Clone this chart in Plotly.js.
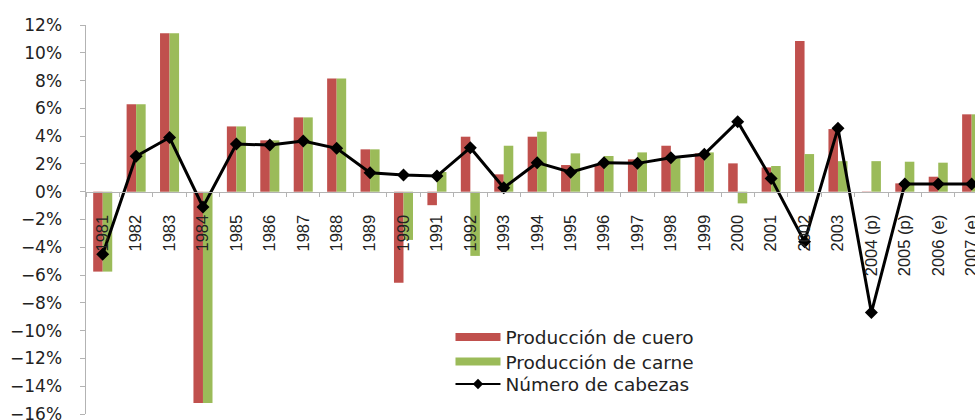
<!DOCTYPE html>
<html>
<head>
<meta charset="utf-8">
<script src="https://cdn.plot.ly/plotly-3.0.1.min.js"></script>
<style>html,body{margin:0;padding:0;background:#fff;}#chart{width:975px;height:420px;}</style>
</head>
<body>
<div id="chart"></div>
<script>
var years = ['1981','1982','1983','1984','1985','1986','1987','1988','1989','1990','1991','1992','1993','1994','1995','1996','1997','1998','1999','2000','2001','2002','2003','2004 (p)','2005 (p)','2006 (e)','2007 (e)'];
var cuero = [-5.75, 6.3, 11.4, -15.2, 4.7, 3.7, 5.35, 8.15, 3.05, -6.55, -0.97, 3.96, 1.25, 3.96, 1.92, 2.0, 2.33, 3.31, 2.76, 2.04, 1.75, 10.84, 4.51, -0.08, 0.6, 1.08, 5.57];
var carne = [-5.75, 6.3, 11.4, -15.2, 4.7, 3.7, 5.35, 8.15, 3.05, -3.47, 1.42, -4.62, 3.31, 4.32, 2.76, 2.57, 2.83, 2.4, 2.83, -0.84, 1.85, 2.71, 2.2, 2.2, 2.16, 2.09, 5.57];
var cabezas = [-4.5, 2.55, 3.9, -1.1, 3.43, 3.36, 3.65, 3.12, 1.37, 1.2, 1.13, 3.17, 0.29, 2.09, 1.4, 2.09, 2.04, 2.45, 2.69, 5.04, 0.96, -3.6, 4.56, -8.7, 0.55, 0.55, 0.55];
var names = ['Producción de cuero', 'Producción de carne', 'Número de cabezas'];

var RED = '#C0504D', GREEN = '#9BBB59', TXT = '#222', AX = '#b3b3b3';

var traces = [
  {type:'bar', x:years, y:cuero, name:names[0], marker:{color:RED}, showlegend:false},
  {type:'bar', x:years, y:carne, name:names[1], marker:{color:GREEN}, showlegend:false},
  {type:'scatter', mode:'lines+markers', x:years, y:cabezas, name:names[2], showlegend:false,
   line:{color:'#000', width:3}, marker:{symbol:'diamond', size:10, color:'#000'}},
  // legend-only entries
  {type:'scatter', mode:'lines', x:[null], y:[null], name:names[0], legend:'legend', line:{color:RED, width:8}},
  {type:'scatter', mode:'lines', x:[null], y:[null], name:names[1], legend:'legend2', line:{color:GREEN, width:8}},
  {type:'scatter', mode:'lines+markers', x:[null], y:[null], name:names[2], legend:'legend3', line:{color:'#000', width:2}, marker:{symbol:'diamond', size:8, color:'#000'}}
];

function leg(y) {
  return {x:0.41, y:y, xanchor:'left', yanchor:'top', bgcolor:'rgba(0,0,0,0)',
          font:{family:'DejaVu Sans', size:18.5, color:TXT}, itemwidth:45};
}

var layout = {
  width:975, height:420,
  margin:{l:86, r:0, t:25, b:6, pad:0},
  paper_bgcolor:'#fff', plot_bgcolor:'#fff',
  barmode:'group', bargap:0.43, bargroupgap:0,
  showlegend:true,
  legend:leg(0.2455), legend2:leg(0.1825), legend3:leg(0.1247),
  xaxis:{type:'category', range:[-0.5, 26.1], anchor:'free', position:0.5714,
         showline:true, linecolor:AX, linewidth:1.5,
         ticks:'outside', tickson:'boundaries', ticklen:4, tickcolor:AX,
         tickangle:-90, ticklabelstandoff:15,
         tickfont:{family:'Liberation Sans, Arial', size:16.5, color:TXT},
         showgrid:false, zeroline:false, fixedrange:true},
  yaxis:{range:[-16,12], dtick:2, ticksuffix:'%', anchor:'x',
         showline:true, linecolor:AX, linewidth:1.5, ticklabeloverflow:'allow',
         ticks:'outside', ticklen:5, tickcolor:AX, ticklabelstandoff:14,
         tickfont:{family:'DejaVu Sans', size:17, color:TXT},
         showgrid:false, zeroline:false, fixedrange:true}
};

Plotly.newPlot('chart', traces, layout, {staticPlot:true, displayModeBar:false});
</script>
</body>
</html>
